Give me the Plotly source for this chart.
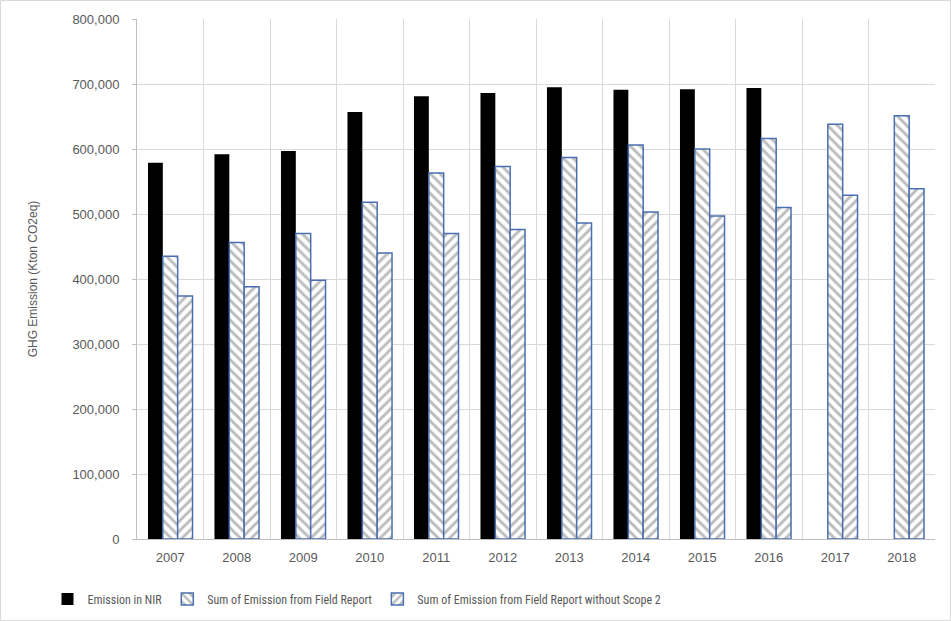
import plotly.graph_objects as go

years = ["2007", "2008", "2009", "2010", "2011", "2012", "2013", "2014", "2015", "2016", "2017", "2018"]
nir = [579000, 592000, 597000, 657000, 681000, 686000, 695000, 691000, 692000, 694000, None, None]
field = [435000, 456000, 470000, 518000, 563000, 573000, 587000, 606000, 600000, 616000, 638000, 651000]
field_wo_scope2 = [374000, 388000, 398000, 440000, 470000, 476000, 486000, 503000, 497000, 510000, 529000, 539000]

names = ["Emission in NIR", "Sum of Emission from Field Report",
         "Sum of Emission from Field Report without Scope 2"]

W, H = 951, 621
ML, MR, MT, MB = 137, 16, 19, 82
PW, PH = W - ML - MR, H - MT - MB

hatch = dict(fgcolor="#7a7a7a", bgcolor="#ffffff", size=7, solidity=0.42, fillmode="overlay")

fig = go.Figure()
fig.add_trace(go.Bar(x=years, y=nir, name=names[0],
                     marker=dict(color="#000000", line=dict(width=0))))
fig.add_trace(go.Bar(x=years, y=field, name=names[1],
                     marker=dict(color="#ffffff", line=dict(color="#4a6fb0", width=1.5),
                                 pattern=dict(shape="\\", **hatch))))
fig.add_trace(go.Bar(x=years, y=field_wo_scope2, name=names[2],
                     marker=dict(color="#ffffff", line=dict(color="#4a6fb0", width=1.5),
                                 pattern=dict(shape="/", **hatch))))

font_color = "#595959"
fig.update_layout(
    width=W, height=H,
    margin=dict(l=ML, r=MR, t=MT, b=MB, autoexpand=False),
    paper_bgcolor="#ffffff", plot_bgcolor="#ffffff",
    barmode="group", bargap=0.33, bargroupgap=0,
    font=dict(family="Liberation Sans, Arial, sans-serif", size=13, color=font_color),
    showlegend=True,
    legend=dict(orientation="h", x=(357 - ML) / PW, xanchor="center",
                y=(MT + PH - 599) / PH, yanchor="middle",
                font=dict(family="Liberation Sans Narrow, Roboto Condensed, Liberation Sans, sans-serif",
                          size=12, color=font_color),
                itemwidth=30,
                bgcolor="rgba(0,0,0,0)", traceorder="normal"),
    xaxis=dict(type="category", tickson="boundaries", showgrid=True, gridcolor="#d9d9d9",
               gridwidth=1, showline=True, linecolor="#bfbfbf", linewidth=1,
               ticks="", tickfont=dict(size=13, color=font_color), automargin=False,
               ticklabelstandoff=6),
    yaxis=dict(range=[0, 800000], dtick=100000, tickformat=",d", showgrid=True,
               gridcolor="#d9d9d9", gridwidth=1, showline=True, linecolor="#bfbfbf",
               linewidth=1, ticks="outside", ticklen=4, tickcolor="#bfbfbf",
               zeroline=False, tickfont=dict(size=13, color=font_color),
               ticklabelstandoff=10, automargin=False,
               title=dict(text="GHG Emission (Kton CO2eq)", standoff=32,
                          font=dict(size=12, color=font_color))),
    shapes=[dict(type="rect", xref="paper", yref="paper",
                 x0=(-ML + 0.5) / PW, x1=1 + (MR - 0.5) / PW,
                 y0=(-MB + 0.5) / PH, y1=1 + (MT - 0.5) / PH,
                 line=dict(color="#d9d9d9", width=1), layer="below")],
)

fig.write_html("out.html", config={"displayModeBar": False},
               post_script="document.body.style.margin='0';")
